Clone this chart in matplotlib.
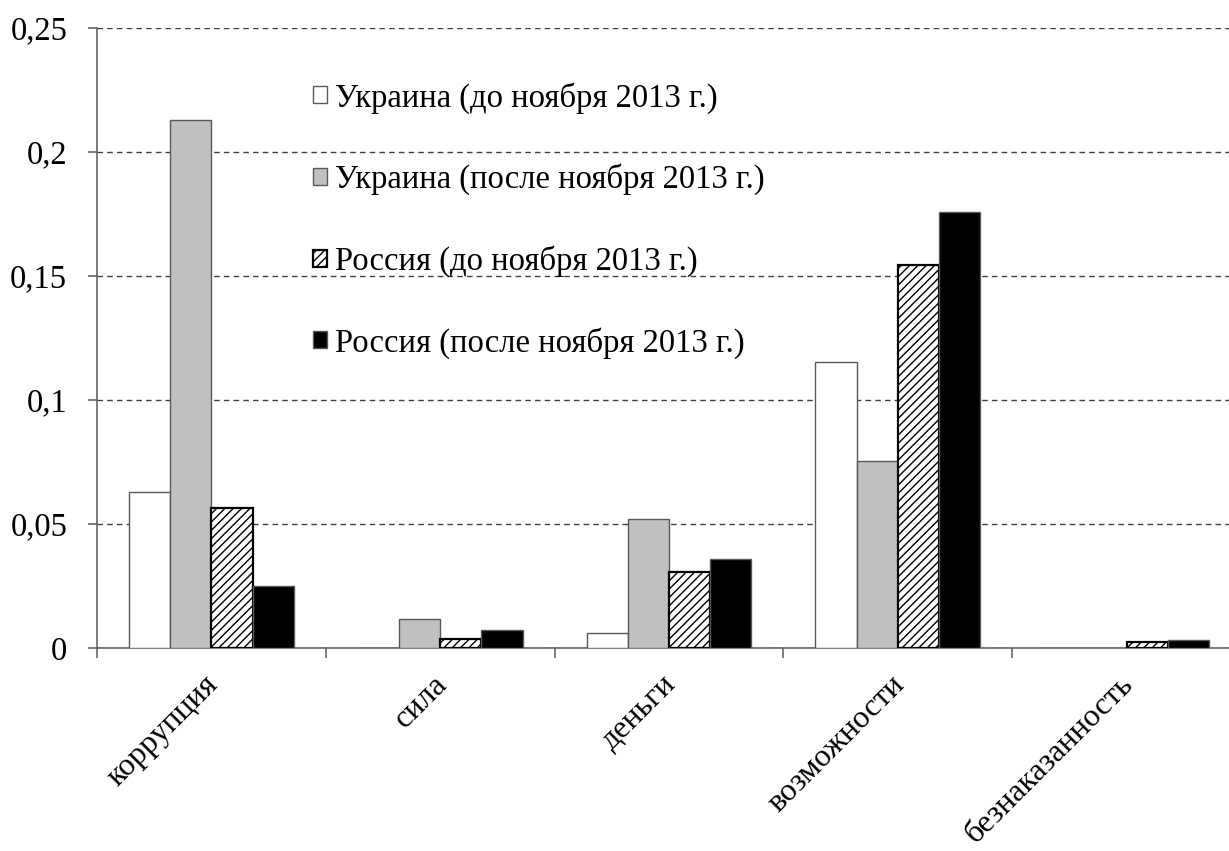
import numpy as np
import matplotlib
matplotlib.use('Agg')
import matplotlib.pyplot as plt
import matplotlib.transforms as mtransforms
from matplotlib.ticker import FuncFormatter

plt.rcParams['font.family'] = ['Liberation Serif', 'DejaVu Serif']
plt.rcParams['hatch.linewidth'] = 1.0

# данные
categories = ['коррупция', 'сила', 'деньги', 'возможности', 'безнаказанность']
series_labels = ['Украина (до ноября 2013 г.)', 'Украина (после ноября 2013 г.)',
                 'Россия (до ноября 2013 г.)', 'Россия (после ноября 2013 г.)']
ukr_before = [0.0628, 0.0, 0.006, 0.1153, 0.0]
ukr_after = [0.2129, 0.0117, 0.052, 0.0754, 0.0]
rus_before = [0.0565, 0.0036, 0.0306, 0.1544, 0.0024]
rus_after = [0.025, 0.0073, 0.0359, 0.1758, 0.0034]
yticks = [0, 0.05, 0.1, 0.15, 0.2, 0.25]

FS = 23.5

fig = plt.figure(figsize=(12.29, 8.51), dpi=100)
ax = fig.add_axes([97 / 1229, 1 - 648 / 851, (1241 - 97) / 1229, 620 / 851])

x = np.arange(len(categories))
w = 0.18
edge_gray = '#595959'

ax.bar(x - 1.5 * w, ukr_before, w, color='white', edgecolor=edge_gray, linewidth=1,
       label=series_labels[0], zorder=3)
ax.bar(x - 0.5 * w, ukr_after, w, color='#c0c0c0', edgecolor=edge_gray, linewidth=1,
       label=series_labels[1], zorder=3)
ax.bar(x + 0.5 * w, rus_before, w, color='white', edgecolor='black', linewidth=1.6,
       hatch='////', label=series_labels[2], zorder=3)
ax.bar(x + 1.5 * w, rus_after, w, color='black', edgecolor=edge_gray, linewidth=1,
       label=series_labels[3], zorder=3)

ax.set_xlim(-0.5, len(categories) - 0.5)
ax.set_ylim(0, 0.25)

# оси
for side in ['top', 'right']:
    ax.spines[side].set_visible(False)
for side in ['left', 'bottom']:
    ax.spines[side].set_color(edge_gray)
    ax.spines[side].set_linewidth(1.1)

ax.set_yticks(yticks)
ax.yaxis.set_major_formatter(FuncFormatter(lambda v, p: ('%g' % v).replace('.', ',')))
ax.tick_params(axis='y', direction='out', length=6.5, width=1.1, color=edge_gray,
               labelsize=FS, pad=15)

ax.set_xticks(np.arange(len(categories) + 1) - 0.5)
ax.set_xticklabels([])
ax.tick_params(axis='x', direction='out', length=7, width=1.1, color=edge_gray)
ax.set_xticks(x, minor=True)
ax.set_xticklabels(categories, minor=True, rotation=45, ha='right', va='top', fontsize=23)
ax.tick_params(axis='x', which='minor', length=0, pad=16)
offset = mtransforms.ScaledTranslation(13 / 100, 0, fig.dpi_scale_trans)
for lbl in ax.get_xticklabels(minor=True):
    lbl.set_transform(lbl.get_transform() + offset)

ax.yaxis.grid(True, linestyle=(0, (4, 3)), color='#404040', linewidth=1, zorder=0)
ax.set_axisbelow(True)

ax.legend(loc='upper left', bbox_to_anchor=(313 / 1229, 1 - 82 / 851),
          bbox_transform=fig.transFigure, frameon=False, fontsize=FS,
          handlelength=0.42, handleheight=0.42, handletextpad=0.25, labelspacing=1.53,
          borderpad=0, borderaxespad=0)

fig.savefig('out.png', dpi=100)
